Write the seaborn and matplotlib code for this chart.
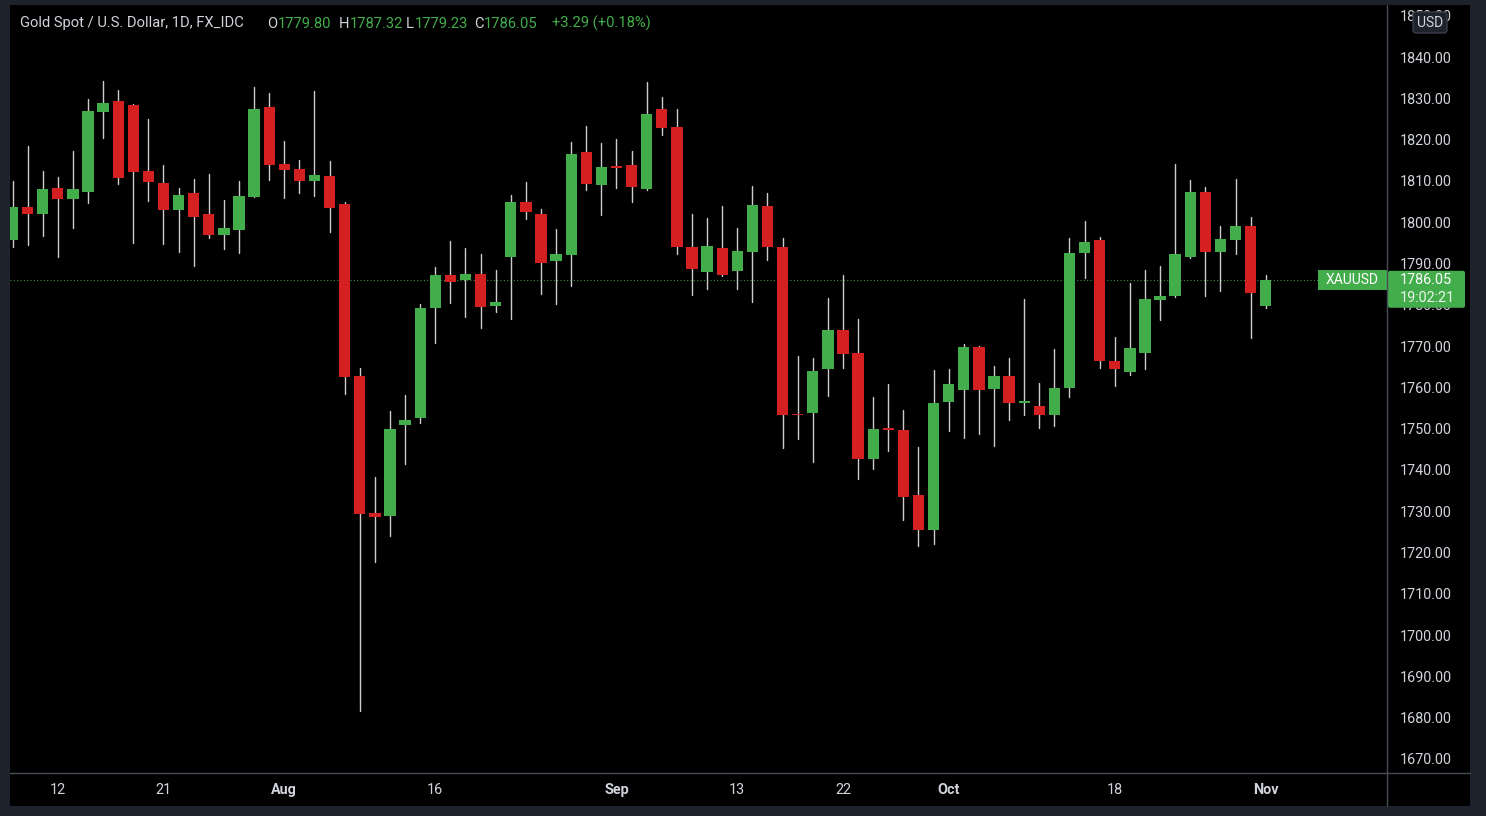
"""Gold spot daily candles, TradingView-style dark chart."""

import numpy as np
import pandas as pd
import matplotlib.pyplot as plt
import seaborn as sns
from matplotlib.patches import Rectangle, FancyBboxPatch

W, H = 1486, 816

# daily OHLC, 2021-07-07 .. 2021-11-01
opens = [1795.7, 1803.7, 1802.0, 1808.2, 1805.7, 1807.4, 1826.8, 1829.3, 1828.4, 1812.4,
         1809.4, 1802.9, 1807.0, 1802.1, 1796.8, 1798.1, 1806.1, 1827.9, 1814.1, 1812.8,
         1810.0, 1811.2, 1804.5, 1762.7, 1729.5, 1728.9, 1750.8, 1752.5, 1779.3, 1787.2,
         1785.9, 1787.4, 1779.8, 1791.6, 1805.0, 1802.1, 1790.5, 1792.0, 1816.9, 1809.1,
         1813.4, 1813.9, 1808.0, 1827.5, 1823.0, 1794.1, 1787.9, 1793.8, 1788.1, 1792.9,
         1803.8, 1794.1, 1753.6, 1753.7, 1764.5, 1773.9, 1768.2, 1742.7, 1750.2, 1749.7,
         1733.9, 1725.4, 1756.4, 1759.4, 1769.8, 1759.5, 1762.7, 1756.1, 1755.6, 1753.3,
         1759.8, 1792.5, 1795.8, 1766.5, 1763.8, 1768.3, 1781.2, 1782.2, 1791.5, 1807.2,
         1792.7, 1795.8, 1799.0, 1779.80]
highs = [1810.0, 1818.4, 1812.4, 1810.9, 1817.2, 1829.8, 1834.3, 1832.0, 1828.6, 1825.0,
         1813.8, 1808.4, 1810.4, 1811.7, 1805.3, 1809.9, 1832.8, 1831.4, 1819.7, 1815.1,
         1831.8, 1814.8, 1804.8, 1764.6, 1738.3, 1754.3, 1758.1, 1780.2, 1789.2, 1795.5,
         1793.8, 1792.4, 1788.5, 1806.6, 1809.7, 1803.1, 1798.3, 1819.3, 1823.3, 1819.2,
         1820.1, 1817.2, 1834.0, 1830.3, 1827.5, 1802.1, 1801.1, 1803.8, 1798.5, 1808.8,
         1807.1, 1796.2, 1767.6, 1767.0, 1781.6, 1787.2, 1776.5, 1757.6, 1760.7, 1754.4,
         1745.6, 1764.1, 1764.4, 1770.4, 1770.1, 1765.2, 1767.0, 1781.4, 1761.0, 1769.3,
         1796.1, 1800.4, 1796.5, 1772.2, 1785.2, 1788.4, 1789.5, 1814.1, 1810.2, 1808.5,
         1799.1, 1810.4, 1801.2, 1787.32]
lows = [1794.0, 1794.5, 1796.6, 1791.5, 1798.5, 1804.7, 1820.3, 1809.2, 1794.9, 1805.1,
        1794.7, 1792.7, 1789.5, 1796.2, 1793.5, 1792.5, 1806.0, 1810.2, 1805.8, 1807.0,
        1806.3, 1797.7, 1758.5, 1681.7, 1717.6, 1724.0, 1741.4, 1751.4, 1770.8, 1780.5,
        1777.1, 1774.3, 1778.3, 1776.5, 1800.7, 1782.5, 1780.1, 1784.5, 1807.8, 1801.7,
        1808.4, 1804.9, 1807.9, 1821.1, 1792.2, 1782.4, 1783.7, 1787.0, 1783.7, 1780.7,
        1790.8, 1745.2, 1747.4, 1742.0, 1757.9, 1764.6, 1737.8, 1740.2, 1744.6, 1727.9,
        1721.6, 1722.0, 1749.5, 1747.7, 1748.6, 1745.9, 1752.1, 1753.3, 1750.1, 1750.7,
        1757.7, 1786.5, 1764.6, 1760.3, 1763.0, 1764.5, 1776.3, 1782.0, 1791.4, 1782.2,
        1783.4, 1792.2, 1772.0, 1779.23]
closes = [1803.7, 1802.0, 1808.0, 1805.7, 1808.0, 1826.9, 1828.9, 1810.8, 1812.2, 1809.8,
          1802.9, 1806.7, 1801.2, 1796.8, 1798.5, 1806.4, 1827.4, 1813.8, 1812.6, 1810.0,
          1811.4, 1803.5, 1762.5, 1729.3, 1728.6, 1750.0, 1752.1, 1779.2, 1787.2, 1785.6,
          1787.5, 1779.5, 1780.7, 1805.0, 1802.5, 1790.0, 1792.4, 1816.5, 1809.3, 1813.3,
          1813.2, 1808.5, 1826.2, 1822.9, 1793.9, 1788.6, 1794.3, 1787.3, 1793.1, 1804.1,
          1793.9, 1753.3, 1753.3, 1763.9, 1773.9, 1768.1, 1742.7, 1749.9, 1749.6, 1733.5,
          1725.4, 1756.3, 1760.7, 1769.7, 1759.3, 1762.7, 1756.1, 1756.7, 1753.3, 1759.8,
          1792.6, 1795.3, 1766.4, 1764.4, 1769.5, 1781.4, 1782.1, 1792.4, 1807.2, 1792.9,
          1796.0, 1799.1, 1782.76, 1786.05]
dates = pd.bdate_range("2021-07-07", "2021-11-01")

tick_dates = ["2021-07-12", "2021-07-21", "2021-08-02", "2021-08-16", "2021-09-01",
              "2021-09-13", "2021-09-22", "2021-10-01", "2021-10-18", "2021-11-01"]
tick_labels = ["12", "21", "Aug", "16", "Sep", "13", "22", "Oct", "18", "Nov"]
price_ticks = list(range(1670, 1851, 10))

symbol = "XAUUSD"
title_name = "Gold Spot / U.S. Dollar, 1D, FX_IDC"
countdown = "19:02:21"

GREEN = "#43ad4c"
RED = "#d42020"
WICK = "#cdcdcd"
TEXT = "#d1d4dc"
FRAME = "#1e222d"
SEP = "#4a4d55"
FS = 10.4

sns.set_theme(style="dark", rc={"axes.facecolor": "black", "figure.facecolor": FRAME})
plt.rcParams["font.family"] = ["Roboto", "DejaVu Sans"]


def fx(px):
    return px / W


def fy(py):
    return 1 - py / H


fig = plt.figure(figsize=(W / 100, H / 100), dpi=100)

# black chart panel behind everything
bg = fig.add_axes([0, 0, 1, 1], zorder=-1)
bg.set_xlim(0, W)
bg.set_ylim(H, 0)
bg.axis("off")
bg.add_patch(Rectangle((10, 5), 1460, 801, color="black", lw=0))

ax = fig.add_axes([fx(10), fy(773), fx(1387) - fx(10), fy(5) - fy(773)], zorder=1)
ax.set_facecolor("black")

df = pd.DataFrame({"date": dates, "open": opens, "high": highs, "low": lows, "close": closes})
df["idx"] = np.arange(len(df))
up = df["close"] >= df["open"]

# wicks
wicks = pd.DataFrame({
    "candle": np.repeat(df["idx"].values, 2),
    "x": np.repeat(df["idx"].values, 2),
    "price": np.column_stack([df["low"], df["high"]]).ravel(),
})
sns.lineplot(data=wicks, x="x", y="price", units="candle", estimator=None,
             color=WICK, linewidth=1.0, ax=ax, legend=False, zorder=2)

# bodies
bottoms = np.minimum(df["open"], df["close"])
heights = np.maximum((df["close"] - df["open"]).abs(), 0.35)
ax.bar(df["idx"], heights, bottom=bottoms, width=0.75,
       color=np.where(up, GREEN, RED), linewidth=0, zorder=3)

last_close = df["close"].iloc[-1]
ax.axhline(last_close, color=GREEN, lw=0.8, ls=(0, (1, 2)), alpha=0.85, zorder=1)

ax.set_xlim(-0.166, 91.03)
ax.set_ylim(1666.6, 1852.6)
ax.grid(False)
for s in ax.spines.values():
    s.set_visible(False)

tick_pos = [dates.get_loc(pd.Timestamp(d)) for d in tick_dates]
ax.set_xticks(tick_pos)
ax.set_xticklabels(tick_labels)
for lab in ax.get_xticklabels():
    if lab.get_text().isalpha():
        lab.set_fontweight("bold")
ax.set_yticks(price_ticks)
ax.set_yticklabels([f"{v:.2f}" for v in price_ticks])
ax.yaxis.tick_right()
ax.tick_params(axis="y", length=0, pad=9.4, labelsize=FS, labelcolor=TEXT)
ax.tick_params(axis="x", length=0, pad=7.0, labelsize=FS, labelcolor=TEXT)
for lab in ax.get_yticklabels():
    lab.set_horizontalalignment("left")
ax.set_xlabel("")
ax.set_ylabel("")

# overlay in pixel coordinates
ov = fig.add_axes([0, 0, 1, 1], zorder=5)
ov.set_xlim(0, W)
ov.set_ylim(H, 0)
ov.axis("off")
ov.patch.set_alpha(0)

ov.plot([1387, 1387], [5, 806], color=SEP, lw=1.0)
ov.plot([10, 1470], [773, 773], color=SEP, lw=1.0)

fig.canvas.draw()
renderer = fig.canvas.get_renderer()
y_last = H - ax.transData.transform((0, last_close))[1]

ov.add_patch(Rectangle((1318, y_last - 10), 69, 20, color=GREEN, lw=0))
ov.text(1352, y_last + 0.5, symbol, color="white", fontsize=FS - 0.4, ha="center", va="center")
ov.add_patch(FancyBboxPatch((1388, y_last - 9), 77, 37,
                            boxstyle="round,pad=0,rounding_size=2", color=GREEN, lw=0))
ov.text(1400, y_last + 0.5, f"{last_close:.2f}", color="white", fontsize=FS, va="center")
ov.text(1400, y_last + 18.5, countdown, color="#e8f5e9", fontsize=FS, va="center")

ov.add_patch(FancyBboxPatch((1413, 12), 34, 21, boxstyle="round,pad=0,rounding_size=3",
                            facecolor=FRAME, edgecolor="#3a3e4a", lw=1))
ov.text(1430, 23, "USD", color=TEXT, fontsize=FS - 0.4, ha="center", va="center")

# header legend: name, then O/H/L/C groups and the day change
prev_close = df["close"].iloc[-2]
chg = last_close - prev_close
o, h, l, c = df[["open", "high", "low", "close"]].iloc[-1]
HY = 23.5
ov.text(20, HY, title_name, color=TEXT, fontsize=10.6, va="center", ha="left")
groups = [(267, "O", o), (339, "H", h), (406, "L", l), (474, "C", c)]
for x0, letter, val in groups:
    t = ov.text(x0, HY, letter, color=TEXT, fontsize=10.6, va="center", ha="left")
    w = t.get_window_extent(renderer).width
    ov.text(x0 + w + 0.5, HY, f"{val:.2f}", color=GREEN, fontsize=10.6, va="center", ha="left")
ov.text(552, HY, f"{chg:+.2f} ({chg / prev_close * 100:+.2f}%)", color=GREEN,
        fontsize=10.6, va="center", ha="left")

fig.savefig("out.png", dpi=100, facecolor=FRAME)
